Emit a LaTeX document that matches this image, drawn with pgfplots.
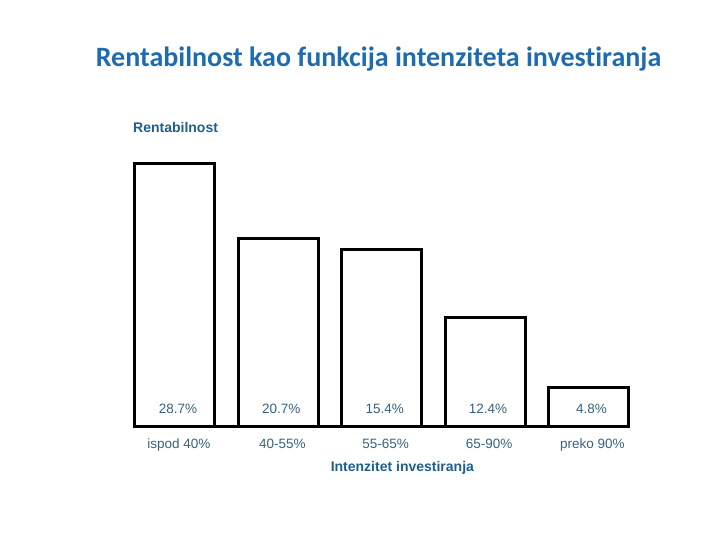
\documentclass[border=0pt]{standalone}
\usepackage{fontspec}
\setmainfont{Liberation Sans}
\newfontfamily\calibri[Ligatures=NoCommon]{Carlito}
\usepackage{pgfplots}
\pgfplotsset{compat=1.18}
\definecolor{titleblue}{HTML}{1F6BB0}
\definecolor{labblue}{HTML}{1E5E8E}
\definecolor{tickblue}{HTML}{36627E}

\begin{document}
\begin{tikzpicture}[x=1pt,y=1pt]
\path (0,0) rectangle (720,540);
\node[anchor=base, text=titleblue, font=\calibri\bfseries\fontsize{28}{32}\selectfont] at (378.5,473) {Rentabilnost kao funkcija intenziteta investiranja};
\node[anchor=base west, inner sep=0pt, text=labblue, font=\bfseries\fontsize{14}{16}\selectfont] at (133,407) {Rentabilnost};
\begin{axis}[at={(135.5pt,113pt)}, anchor=south west,
	scale only axis, width=493pt, height=275.7pt,
	xmin=-0.382, xmax=4.388, ymin=0, ymax=30,
	axis x line=bottom, hide y axis, clip=false,
	axis line style={line width=3pt, black, -},
	xtick=data, major tick length=0pt,
	xticklabels={ispod 40\%, 40-55\%, 55-65\%, 65-90\%, preko 90\%},
	xticklabel style={anchor=base, yshift=-22pt, xshift=4pt, text=tickblue, font=\fontsize{13.5}{15}\selectfont},
	xlabel={Intenzitet investiranja},
	xlabel style={anchor=base, at={(axis cs:2.2,0)}, yshift=-45pt, text=labblue, font=\bfseries\fontsize{14}{16}\selectfont},
	]
	\addplot[ybar, bar width=80pt, draw=black, line width=3pt, fill=white] coordinates {
		(0,28.7) (1,20.55) (2,19.3) (3,11.9) (4,4.35)
	};
	\foreach \i/\v in {0/28.7, 1/20.7, 2/15.4, 3/12.4, 4/4.8} {
		\edef\temp{\noexpand\node[anchor=base, yshift=13pt, xshift=3pt, text=tickblue, font=\noexpand\fontsize{13.5}{15}\noexpand\selectfont] at (axis cs:\i,0) {\v\noexpand\%};}
		\temp
	}
\end{axis}
\end{tikzpicture}
\end{document}
